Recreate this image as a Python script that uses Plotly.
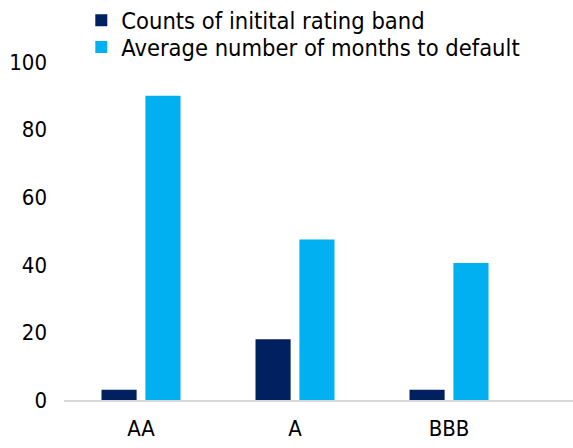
import plotly.graph_objects as go

categories = ["AA", "A", "BBB"]
counts = [3, 18, 3]
avg_months = [90, 47.5, 40.5]
series_names = ["Counts of initital rating band", "Average number of months to default"]
y_ticks = [0, 20, 40, 60, 80, 100]

FONT = "DejaVu Sans Condensed, Tahoma, DejaVu Sans, sans-serif"

fig = go.Figure()
fig.add_trace(go.Bar(x=categories, y=counts, name=series_names[0], legend="legend",
                     showlegend=True,
                     marker=dict(color="#002060", line=dict(width=0))))
fig.add_trace(go.Bar(x=categories, y=avg_months, name=series_names[1], legend="legend2",
                     showlegend=True,
                     marker=dict(color="#00B0F0", line=dict(width=0))))

leg_common = dict(orientation="v", xanchor="left", yanchor="middle",
                  font=dict(size=23.5), bgcolor="rgba(0,0,0,0)", itemwidth=30,
                  visible=True)

fig.update_layout(
    width=573, height=448,
    showlegend=True,
    margin=dict(l=64, r=0, t=62, b=48, autoexpand=False),
    paper_bgcolor="white", plot_bgcolor="white",
    barmode="group", bargap=0.43, bargroupgap=0.2,
    font=dict(family=FONT, size=22, color="#000000"),
    legend=dict(x=0.034, y=1.123, **leg_common),
    legend2=dict(x=0.034, y=1.0435, **leg_common),
    xaxis=dict(range=[-0.5, 2.805], showline=True, linecolor="#D9D9D9", linewidth=2,
               showgrid=False, ticks="", ticklabelstandoff=8, zeroline=False),
    yaxis=dict(range=[0, 100], tickvals=y_ticks, showline=False, showgrid=False,
               zeroline=False, ticks="", ticklabelstandoff=16),
)

fig.write_html("out.html")
